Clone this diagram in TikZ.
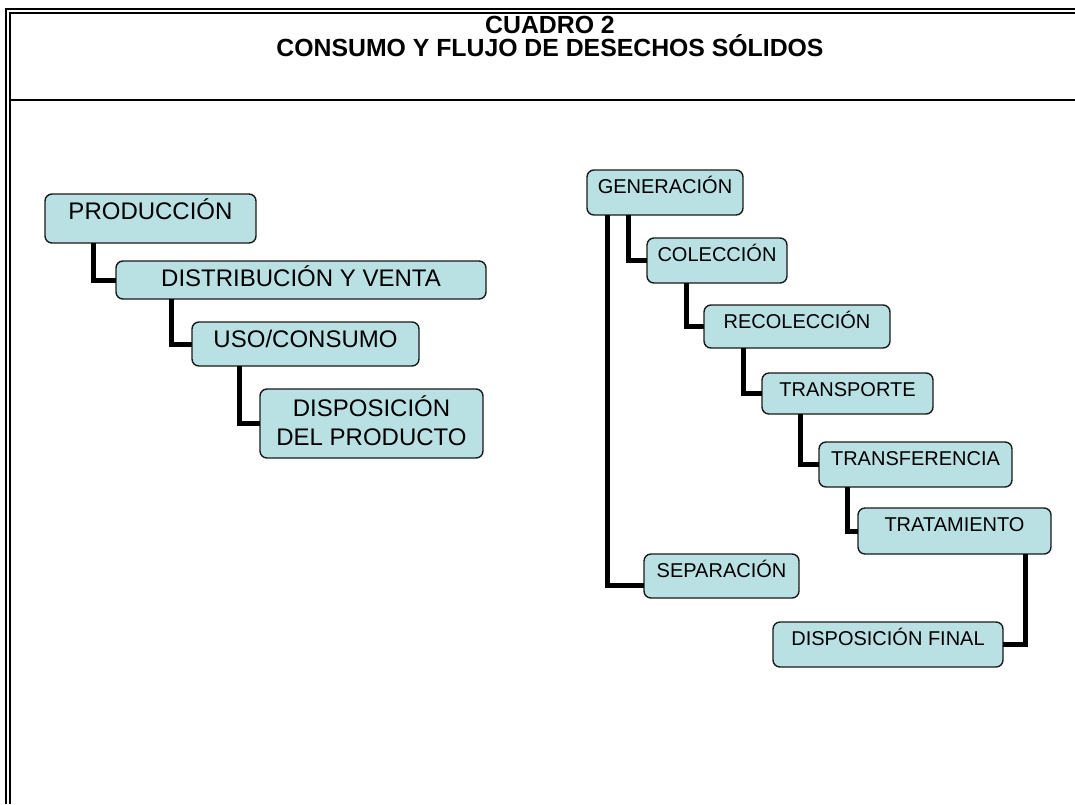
\documentclass[tikz,border=0pt]{standalone}
\usepackage{fontspec}
\setmainfont{Liberation Sans}
\definecolor{boxfill}{HTML}{B9E0E3}
\definecolor{boxline}{HTML}{1A1A1A}
\begin{document}
\begin{tikzpicture}[x=1pt,y=-1pt,
  box/.style={draw=boxline, line width=1.4pt, fill=boxfill, rounded corners=7pt,
    inner xsep=0pt, inner ysep=0pt, outer sep=0pt},
  lbox/.style={box, font=\fontsize{24}{29}\selectfont},
  rbox/.style={box, font=\fontsize{20}{24}\selectfont, text height=23.2pt},
  conn/.style={line width=5pt},
  frame/.style={line width=2pt}]
\useasboundingbox (0,0) rectangle (1075,804);
\fill[white] (0,0) rectangle (1075,804);
% frame
\draw[frame] (6,804) -- (6,9) -- (1075,9);
\draw[frame] (10,804) -- (10,12.8) -- (1075,12.8);
\draw[frame] (10,99.7) -- (1075,99.7);
% title
\node[font=\fontsize{24.8}{22.5}\selectfont\bfseries, align=center, anchor=base, inner sep=0pt]
  (title) at (550,56) {CUADRO 2\\CONSUMO Y FLUJO DE DESECHOS SÓLIDOS};
% left tree
\node[lbox, minimum width=211pt, text height=25.6pt, text depth=23.4pt] (p1) at (150.5,218.5) {PRODUCCIÓN};
\node[lbox, minimum width=370pt, text height=25.6pt, text depth=12.4pt] (p2) at (301,280) {DISTRIBUCIÓN Y VENTA};
\node[lbox, minimum width=227pt, text height=25.6pt, text depth=18.4pt] (p3) at (305.5,344) {USO/CONSUMO};
\node[lbox, minimum width=223pt, text height=56.6pt, text depth=12.4pt, align=center] (p4) at (371.5,423.5) {DISPOSICIÓN\\DEL PRODUCTO};
\draw[conn] ([xshift=48pt]p1.south west) |- (p2.west);
\draw[conn] ([xshift=55pt]p2.south west) |- (p3.west);
\draw[conn] ([xshift=47pt]p3.south west) |- (p4.west);
% right tree
\node[rbox, minimum width=156pt, text depth=21.8pt] (g) at (665,192.5) {GENERACIÓN};
\node[rbox, minimum width=140pt, text depth=21.8pt] (c) at (717,260.5) {COLECCIÓN};
\node[rbox, minimum width=186pt, text depth=19.8pt] (r) at (797,326.5) {RECOLECCIÓN};
\node[rbox, minimum width=171pt, text depth=17.8pt] (t) at (847.5,393.5) {TRANSPORTE};
\node[rbox, minimum width=193pt, text depth=21.8pt] (tf) at (915.5,464.5) {TRANSFERENCIA};
\node[rbox, minimum width=193pt, text depth=22.8pt] (tr) at (954.5,531) {TRATAMIENTO};
\node[rbox, minimum width=155pt, text depth=20.8pt] (s) at (721.5,576) {SEPARACIÓN};
\node[rbox, minimum width=230pt, text depth=21.8pt] (df) at (888,644.5) {DISPOSICIÓN FINAL};
\draw[conn] ([xshift=41pt]g.south west) |- (c.west);
\draw[conn] ([xshift=20pt]g.south west) |- ([yshift=-9pt]s.west);
\draw[conn] ([xshift=39pt]c.south west) |- (r.west);
\draw[conn] ([xshift=39pt]r.south west) |- (t.west);
\draw[conn] ([xshift=38pt]t.south west) |- (tf.west);
\draw[conn] ([xshift=28.5pt]tf.south west) |- (tr.west);
\draw[conn] ([xshift=-26pt]tr.south east) |- (df.east);
\end{tikzpicture}
\end{document}
